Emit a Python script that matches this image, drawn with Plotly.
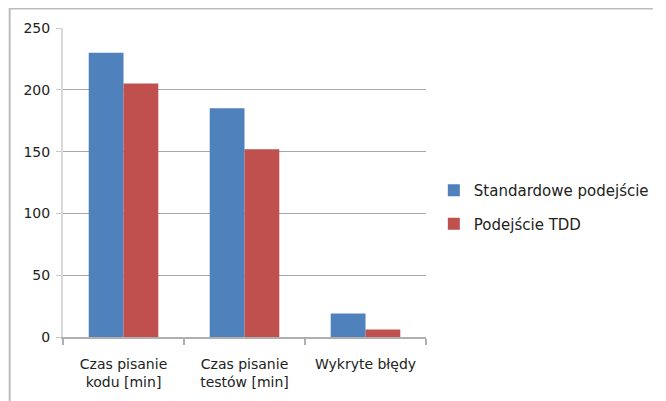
import plotly.graph_objects as go

categories = ["Czas pisanie<br>kodu [min]", "Czas pisanie<br>testów [min]", "Wykryte błędy"]
series_names = ["Standardowe podejście", "Podejście TDD"]
standard_values = [230, 185, 19]
tdd_values = [205, 152, 6]
y_ticks = [0, 50, 100, 150, 200, 250]

FONT = "DejaVu Sans"
TXT = "#222222"

# page body has an 8px margin; figure drawn at (8, 8) in the 666x401 window
W, H = 658, 393
L, T = 55, 20
PW, PH = 371, 309
R, B = W - L - PW, H - T - PH

def px_x(p):
    return (p - L) / PW

def px_y(p):
    return (T + PH - p) / PH

fig = go.Figure()
fig.add_trace(go.Bar(x=categories, y=standard_values, name=series_names[0],
                     marker=dict(color="#4F81BD", line=dict(width=0)),
                     legendgroup="a"))
fig.add_trace(go.Bar(x=categories, y=tdd_values, name=series_names[1],
                     marker=dict(color="#C0504D", line=dict(width=0)),
                     legendgroup="b"))

# outer chart border (top and left edges visible)
fig.add_shape(type="line", xref="paper", yref="paper",
              x0=px_x(0), x1=px_x(W), y0=px_y(0.5), y1=px_y(0.5),
              line=dict(color="#BDBDBD", width=2))
fig.add_shape(type="line", xref="paper", yref="paper",
              x0=px_x(0.5), x1=px_x(0.5), y0=px_y(0), y1=px_y(H),
              line=dict(color="#BDBDBD", width=2))

fig.update_layout(
    width=W, height=H, autosize=False,
    margin=dict(l=L, r=R, t=T, b=B, pad=0),
    paper_bgcolor="white", plot_bgcolor="white",
    barmode="group", bargap=0.425, bargroupgap=0,
    font=dict(family=FONT, size=14, color=TXT),
    legend=dict(x=px_x(434), xanchor="left", y=px_y(199), yanchor="middle",
                font=dict(family=FONT, size=15, color=TXT),
                tracegroupgap=11, itemwidth=30, bgcolor="rgba(0,0,0,0)"),
    xaxis=dict(showline=True, linecolor="#AFAFAF", linewidth=2,
               ticks="outside", tickson="boundaries", ticklen=6,
               tickcolor="#AFAFAF", tickwidth=2, showgrid=False,
               ticklabelstandoff=13,
               tickfont=dict(family=FONT, size=14, color=TXT)),
    yaxis=dict(range=[0, 250], tickvals=y_ticks, showgrid=True,
               gridcolor="#A8A8A8", gridwidth=1, zeroline=False,
               showline=True, linecolor="#D9D9D9", linewidth=2,
               ticks="outside", ticklen=5, tickcolor="#C8C8C8",
               ticklabelstandoff=3,
               tickfont=dict(family=FONT, size=14, color=TXT)),
)

fig.write_html("out.html")
